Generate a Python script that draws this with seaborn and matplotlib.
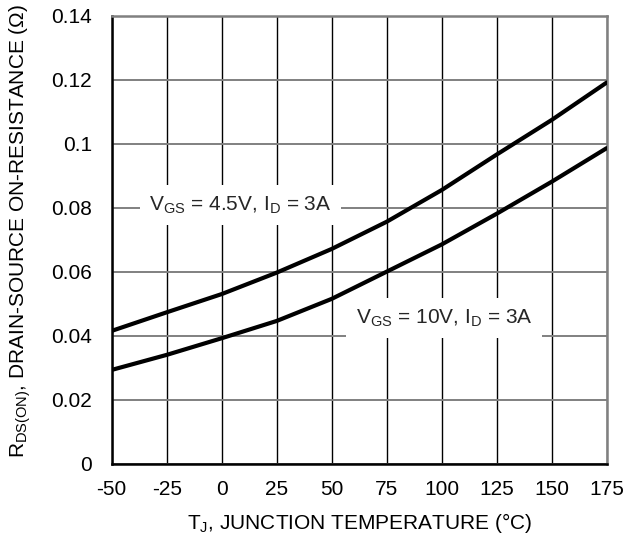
import numpy as np
import pandas as pd
import seaborn as sns
from matplotlib import pyplot as plt

# junction temperature (degC) and on-resistance (ohm)
temp_c = [-50, -25, 0, 25, 50, 75, 100, 125, 150, 175]
rds_vgs_4v5 = [0.0415, 0.0473, 0.0530, 0.0597, 0.0671, 0.0756, 0.0855, 0.0966, 0.1074, 0.1191]
rds_vgs_10v = [0.0293, 0.0340, 0.0392, 0.0446, 0.0515, 0.0600, 0.0685, 0.0781, 0.0881, 0.0986]

x_ticks = [-50, -25, 0, 25, 50, 75, 100, 125, 150, 175]
x_tick_labels = ["-50", "-25", "0", "25", "50", "75", "100", "125", "150", "175"]
y_ticks = [0, 0.02, 0.04, 0.06, 0.08, 0.1, 0.12, 0.14]
y_tick_labels = ["0", "0.02", "0.04", "0.06", "0.08", "0.1", "0.12", "0.14"]

label_4v5 = r"V$_{\mathregular{GS}}$ = 4.5V, I$_{\mathregular{D}}$ = 3A"
label_10v = r"V$_{\mathregular{GS}}$ = 10V, I$_{\mathregular{D}}$ = 3A"


def main():
    df = pd.concat([
        pd.DataFrame({"temp": temp_c, "rds": rds_vgs_4v5, "cond": "4.5V"}),
        pd.DataFrame({"temp": temp_c, "rds": rds_vgs_10v, "cond": "10V"}),
    ])

    sns.set_theme(style="white")
    plt.rcParams["font.family"] = ["Liberation Sans", "DejaVu Sans"]
    plt.rcParams["mathtext.default"] = "regular"

    fig = plt.figure(figsize=(6.26, 5.35), dpi=100)
    ax = fig.add_axes([0.1784, 0.1333, 0.7907, 0.8374])

    sns.lineplot(data=df, x="temp", y="rds", hue="cond", palette=["black", "black"],
                 linewidth=3, legend=False, ax=ax, zorder=3)

    ax.set_xlim(-50, 175)
    ax.set_ylim(0, 0.14)
    ax.set_xticks(x_ticks, x_tick_labels)
    ax.set_yticks(y_ticks, y_tick_labels)
    ax.tick_params(axis="both", length=0, labelsize=15, colors="black")
    ax.tick_params(axis="x", pad=12)
    ax.tick_params(axis="y", pad=14)

    ax.set_axisbelow(True)
    ax.xaxis.grid(True, color="black", linewidth=1.0)
    ax.yaxis.grid(True, color="#808080", linewidth=1.4)

    for side in ["left", "bottom"]:
        ax.spines[side].set_color("black")
        ax.spines[side].set_linewidth(1.8)
    for side in ["top", "right"]:
        ax.spines[side].set_color("#808080")
        ax.spines[side].set_linewidth(1.8)

    ax.set_xlabel(r"T$_{\mathregular{J}}$, JUNCTION TEMPERATURE (°C)", fontsize=15, color="black")
    ax.xaxis.set_label_coords(0.5, -0.106)
    ax.set_ylabel(r"R$_{\mathregular{DS(ON)}}$, DRAIN-SOURCE ON-RESISTANCE (Ω)", fontsize=15,
                  color="black", loc="bottom")
    ax.yaxis.set_label_coords(-0.158, 0.012)

    box = dict(boxstyle="square,pad=0.45", facecolor="white", edgecolor="none")
    ax.text(8.5, 0.0808, label_4v5, fontsize=15, ha="center", va="center", bbox=box, zorder=4)
    ax.text(101, 0.0454, label_10v, fontsize=15, ha="center", va="center", bbox=box, zorder=4)

    fig.savefig("out.png", dpi=100)


if __name__ == '__main__':
    main()
